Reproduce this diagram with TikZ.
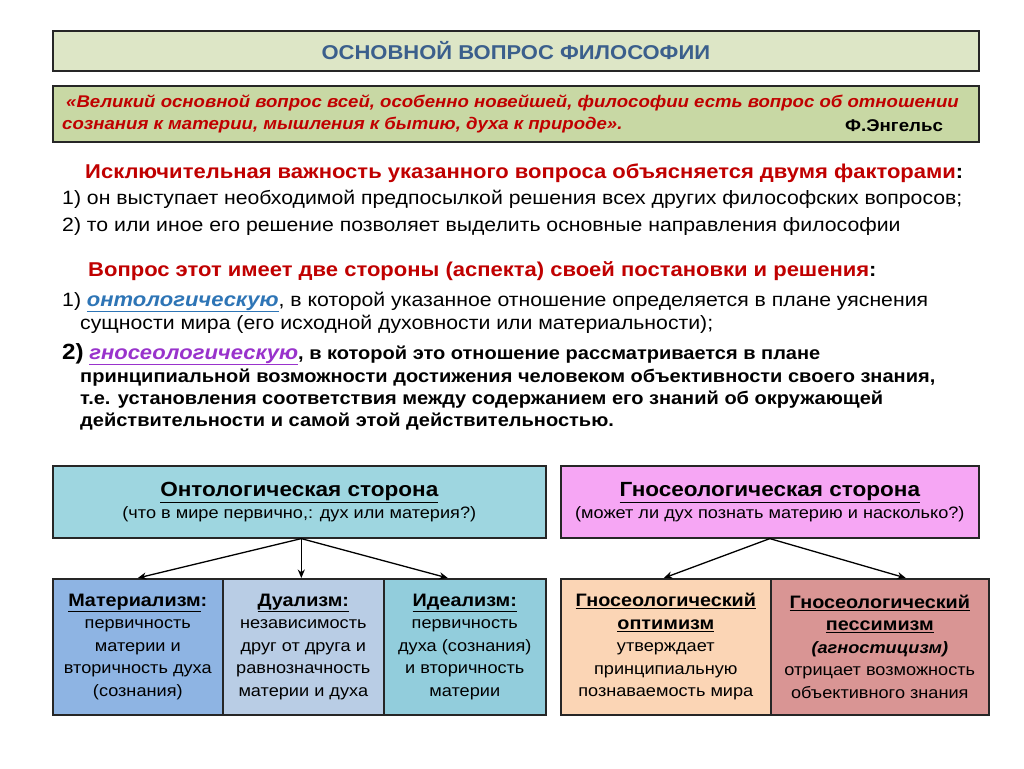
\documentclass[tikz,border=0pt]{standalone}
\usepackage{fontspec}
\setmainfont{Liberation Sans}[FakeStretch=1.1]
\usepackage{xcolor}
\usetikzlibrary{arrows.meta, positioning, calc}

\definecolor{TitleFill}{HTML}{DDE6C6}
\definecolor{QuoteFill}{HTML}{C8D8A4}
\definecolor{TitleBlue}{HTML}{3B5F8C}
\definecolor{QuoteRed}{HTML}{C00000}
\definecolor{OntoBlue}{HTML}{2E75B6}
\definecolor{GnoPurple}{HTML}{9933CC}
\definecolor{OntoFill}{HTML}{9ED6E0}
\definecolor{GnoFill}{HTML}{F6A6F4}
\definecolor{MatFill}{HTML}{8EB4E3}
\definecolor{DualFill}{HTML}{B9CDE5}
\definecolor{IdealFill}{HTML}{92CDDC}
\definecolor{OptFill}{HTML}{FBD5B5}
\definecolor{PesFill}{HTML}{D99594}

\newcommand{\ul}[1]{\underline{#1}}

\begin{document}
\begin{tikzpicture}[
    x=1pt, y=-1pt,
    banner/.style={rectangle, draw=black!85, line width=1.6pt, anchor=north west, inner sep=0pt},
    sidebox/.style={rectangle, draw=black!85, line width=1.6pt, anchor=north west, align=center, inner sep=0pt, font=\fontsize{16.5}{22}\selectfont},
    cellbox/.style={rectangle, draw=black!85, line width=1.6pt, anchor=north west, align=center, inner sep=0pt, font=\fontsize{16.5}{22.5}\selectfont},
    cellhead/.style={},
    bodytxt/.style={anchor=base west, inner sep=0pt, font=\fontsize{19.3}{22}\selectfont},
    boldtxt/.style={anchor=base west, inner sep=0pt, font=\fontsize{18.2}{22}\selectfont\bfseries},
    redhead/.style={anchor=base west, inner sep=0pt, font=\fontsize{20}{22}\selectfont\bfseries, text=QuoteRed},
    quotetxt/.style={anchor=base west, inner sep=0pt, text=QuoteRed, font=\fontsize{16.9}{20}\selectfont\bfseries\itshape},
    arrow/.style={-{Stealth[length=3mm, width=2.5mm]}, line width=1.3pt}
    ]

    \fill[white] (0,0) rectangle (1024,768);

    % Header boxes
    \node[banner, fill=TitleFill, minimum width=926pt, minimum height=40pt] (title) at (52,30) {};
    \node[font=\fontsize{20}{22}\selectfont\bfseries, text=TitleBlue] at (title.center) {ОСНОВНОЙ ВОПРОС ФИЛОСОФИИ};
    \node[banner, fill=QuoteFill, minimum width=926pt, minimum height=56pt] (quote) at (52,85) {};
    \node[quotetxt] (q1) at (66,107) {«Великий основной вопрос всей, особенно новейшей, философии есть вопрос об отношении};
    \node[quotetxt] (q2) at (62,129) {сознания к материи, мышления к бытию, духа к природе».};
    \node[anchor=base west, inner sep=0pt, font=\fontsize{17}{20}\selectfont\bfseries] (author) at (845,131) {Ф.Энгельс};

    % Text block
    \node[redhead] (head1) at (85,178) {Исключительная важность указанного вопроса объясняется двумя факторами\textcolor{black}{:}};
    \node[bodytxt] (f1) at (62,204) {1) он выступает необходимой предпосылкой решения всех других философских вопросов;};
    \node[bodytxt] (f2) at (62,231) {2) то или иное его решение позволяет выделить основные направления философии};
    \node[redhead] (head2) at (88,276) {Вопрос этот имеет две стороны (аспекта) своей постановки и решения\textcolor{black}{:}};
    \node[bodytxt] (a1) at (62,306) {1) \textcolor{OntoBlue}{\bfseries\itshape\fontsize{20}{22}\selectfont\ul{онтологическую}}, в которой указанное отношение определяется в плане уяснения};
    \node[bodytxt] (a1b) at (80,329) {сущности мира (его исходной духовности или материальности);};
    \node[boldtxt] (a2) at (62,359) {{\fontsize{22}{22}\selectfont 2)} \textcolor{GnoPurple}{\itshape\fontsize{20}{22}\selectfont\ul{гносеологическую}}, в которой это отношение рассматривается в плане};
    \node[boldtxt] (a2b) at (80,382) {принципиальной возможности достижения человеком объективности своего знания,};
    \node[boldtxt] (a2c) at (80,404) {т.е. установления соответствия между содержанием его знаний об окружающей};
    \node[boldtxt] (a2d) at (80,426) {действительности и самой этой действительностью.};

    % Sides
    \node[sidebox, fill=OntoFill, minimum width=493pt, minimum height=72pt] (onto) at (52,465)
        {{\fontsize{20.5}{24}\selectfont\bfseries\ul{Онтологическая сторона}}\\(что в мире первично,: дух или материя?)};
    \node[sidebox, fill=GnoFill, minimum width=418pt, minimum height=72pt] (gno) at (560,465)
        {{\fontsize{20.5}{24}\selectfont\bfseries\ul{Гносеологическая сторона}}\\(может ли дух познать материю и насколько?)};

    % Cells
    \node[cellbox, fill=MatFill, minimum width=170pt, minimum height=136pt] (mat) at (52,578)
        {{\bfseries\fontsize{18}{22.5}\selectfont\ul{Материализм}:}\\первичность\\материи и\\вторичность духа\\(сознания)};
    \node[cellbox, fill=DualFill, minimum width=161pt, minimum height=136pt] (dual) at (222,578)
        {{\bfseries\fontsize{18}{22.5}\selectfont\ul{Дуализм:}}\\независимость\\друг от друга и\\равнозначность\\материи и духа};
    \node[cellbox, fill=IdealFill, minimum width=162pt, minimum height=136pt] (ideal) at (383,578)
        {{\bfseries\fontsize{18}{22.5}\selectfont\ul{Идеализм:}}\\первичность\\духа (сознания)\\и вторичность\\материи};
    \node[cellbox, fill=OptFill, minimum width=210pt, minimum height=136pt] (opt) at (560,578)
        {{\bfseries\fontsize{18}{22.5}\selectfont\ul{Гносеологический}}\\{\bfseries\fontsize{18}{22.5}\selectfont\ul{оптимизм}}\\утверждает\\принципиальную\\познаваемость мира};
    \node[cellbox, fill=PesFill, minimum width=218pt, minimum height=136pt] (pes) at (770,578)
        {{\bfseries\fontsize{18}{22.5}\selectfont\ul{Гносеологический}}\\{\bfseries\fontsize{18}{22.5}\selectfont\ul{пессимизм}}\\{\bfseries\itshape (агностицизм)}\\отрицает возможность\\объективного знания};

    % Arrows
    \coordinate (ontofoot) at ($(onto.south)+(2,0)$);
    \draw[arrow] (ontofoot) -- (mat.north);
    \draw[arrow] (ontofoot) -- (ontofoot |- dual.north);
    \draw[arrow] (ontofoot) -- ($(ideal.north)+(-17,0)$);
    \draw[arrow] (gno.south) -- ($(opt.north)+(-2,0)$);
    \draw[arrow] (gno.south) -- ($(pes.north)+(26,0)$);
\end{tikzpicture}
\end{document}
